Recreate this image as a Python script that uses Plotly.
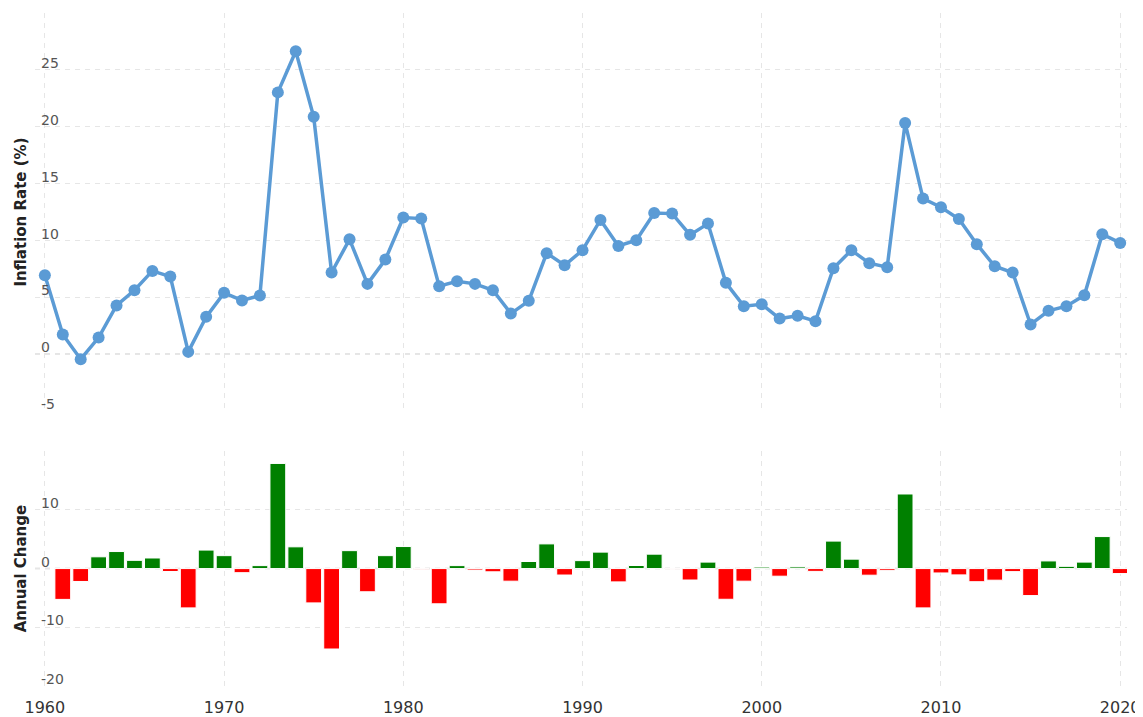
import plotly.graph_objects as go

years = list(range(1960, 2021))

inflation = [6.94, 1.73, -0.44, 1.46, 4.28, 5.62, 7.32, 6.82, 0.20, 3.28,
             5.39, 4.72, 5.16, 23.02, 26.63, 20.88, 7.18, 10.10, 6.18, 8.32,
             12.01, 11.92, 5.98, 6.41, 6.18, 5.62, 3.57, 4.69, 8.88, 7.82,
             9.14, 11.80, 9.52, 10.02, 12.42, 12.36, 10.49, 11.48, 6.27, 4.22,
             4.39, 3.13, 3.37, 2.90, 7.56, 9.14, 8.00, 7.65, 20.33, 13.68,
             12.92, 11.89, 9.67, 7.73, 7.18, 2.61, 3.81, 4.22, 5.18, 10.54, 9.78]

change_years = list(range(1961, 2021))
annual_change = [-5.25, -2.2, 2.0, 2.9, 1.4, 1.8, -0.5, -6.7, 3.15, 2.2,
                 -0.7, 0.5, 17.9, 3.7, -5.85, -13.7, 3.05, -3.95, 2.2, 3.75,
                 -0.1, -6.0, 0.5, -0.25, -0.55, -2.15, 1.2, 4.2, -1.1, 1.35,
                 2.8, -2.27, 0.52, 2.45, -0.08, -1.95, 1.1, -5.23, -2.15, 0.25,
                 -1.3, 0.28, -0.48, 4.68, 1.6, -1.13, -0.3, 12.7, -6.7, -0.75,
                 -1.08, -2.24, -1.98, -0.52, -4.6, 1.3, 0.38, 1.1, 5.45, -0.85]

bar_colors = ["#008000" if v >= 0 else "#ff0000" for v in annual_change]

top_ticks = [-5, 0, 5, 10, 15, 20, 25, 30]
top_text = ["-5", "0", "5", "10", "15", "20", "25", ""]
bot_ticks = [-20, -10, 0, 10, 20]
bot_text = ["-20", "-10", "0", "10", ""]
x_ticks = [1960, 1970, 1980, 1990, 2000, 2010, 2020]

LINE = "#5b9bd5"
GRID = "#e6e6e6"
FONT = "DejaVu Sans"

fig = go.Figure()
fig.add_trace(go.Scatter(
    x=years, y=inflation, mode="lines+markers",
    line=dict(color=LINE, width=3.5),
    marker=dict(color=LINE, size=12),
    xaxis="x", yaxis="y", showlegend=False))
fig.add_trace(go.Bar(
    x=change_years, y=annual_change,
    marker=dict(color=bar_colors, line=dict(color="#ffffff", width=1)),
    xaxis="x2", yaxis="y2", showlegend=False))

xrange = [1959.45, 2020.38]
common_x = dict(range=xrange, tickvals=x_ticks, showgrid=True, gridcolor=GRID,
                griddash="5px,5px", gridwidth=1, zeroline=False, showline=False,
                ticks="", automargin=False)
ytick_common = dict(ticklabelposition="inside top", ticklabelstandoff=3,
                    ticklabelshift=3, tickfont=dict(size=14, color="#555555"),
                    automargin=False, ticklabeloverflow="allow", showgrid=True,
                    gridcolor=GRID, griddash="5px,5px", zeroline=False)
fig.update_layout(
    width=1135, height=709,
    margin=dict(l=27, r=16, t=5, b=31),
    paper_bgcolor="white", plot_bgcolor="white",
    font=dict(family=FONT),
    bargap=0.12,
    xaxis=dict(**common_x, anchor="y", showticklabels=False, matches="x2"),
    xaxis2=dict(**common_x, anchor="y2", ticklabeloverflow="allow",
                tickfont=dict(size=16, color="#333333"), ticklabelstandoff=10),
    yaxis=dict(domain=[0.4086, 1.0], range=[-5, 30], tickvals=top_ticks,
               ticktext=top_text, **ytick_common,
               title=dict(text="<b>Inflation Rate (%)</b>",
                          font=dict(size=15, color="#222222"), standoff=10)),
    yaxis2=dict(domain=[0.0, 0.349], range=[-20, 20], tickvals=bot_ticks,
                ticktext=bot_text, **ytick_common,
                title=dict(text="<b>Annual Change</b>",
                           font=dict(size=15, color="#222222"), standoff=10)),
)
# darker dashed zero line on both panels
for yref in ["y", "y2"]:
    fig.add_shape(type="line", xref="x domain" if yref == "y" else "x2 domain",
                  yref=yref, x0=0, x1=1, y0=0, y1=0,
                  line=dict(color="#cccccc", width=1.5, dash="5px,5px"), layer="below")

fig.write_html("out.html")
